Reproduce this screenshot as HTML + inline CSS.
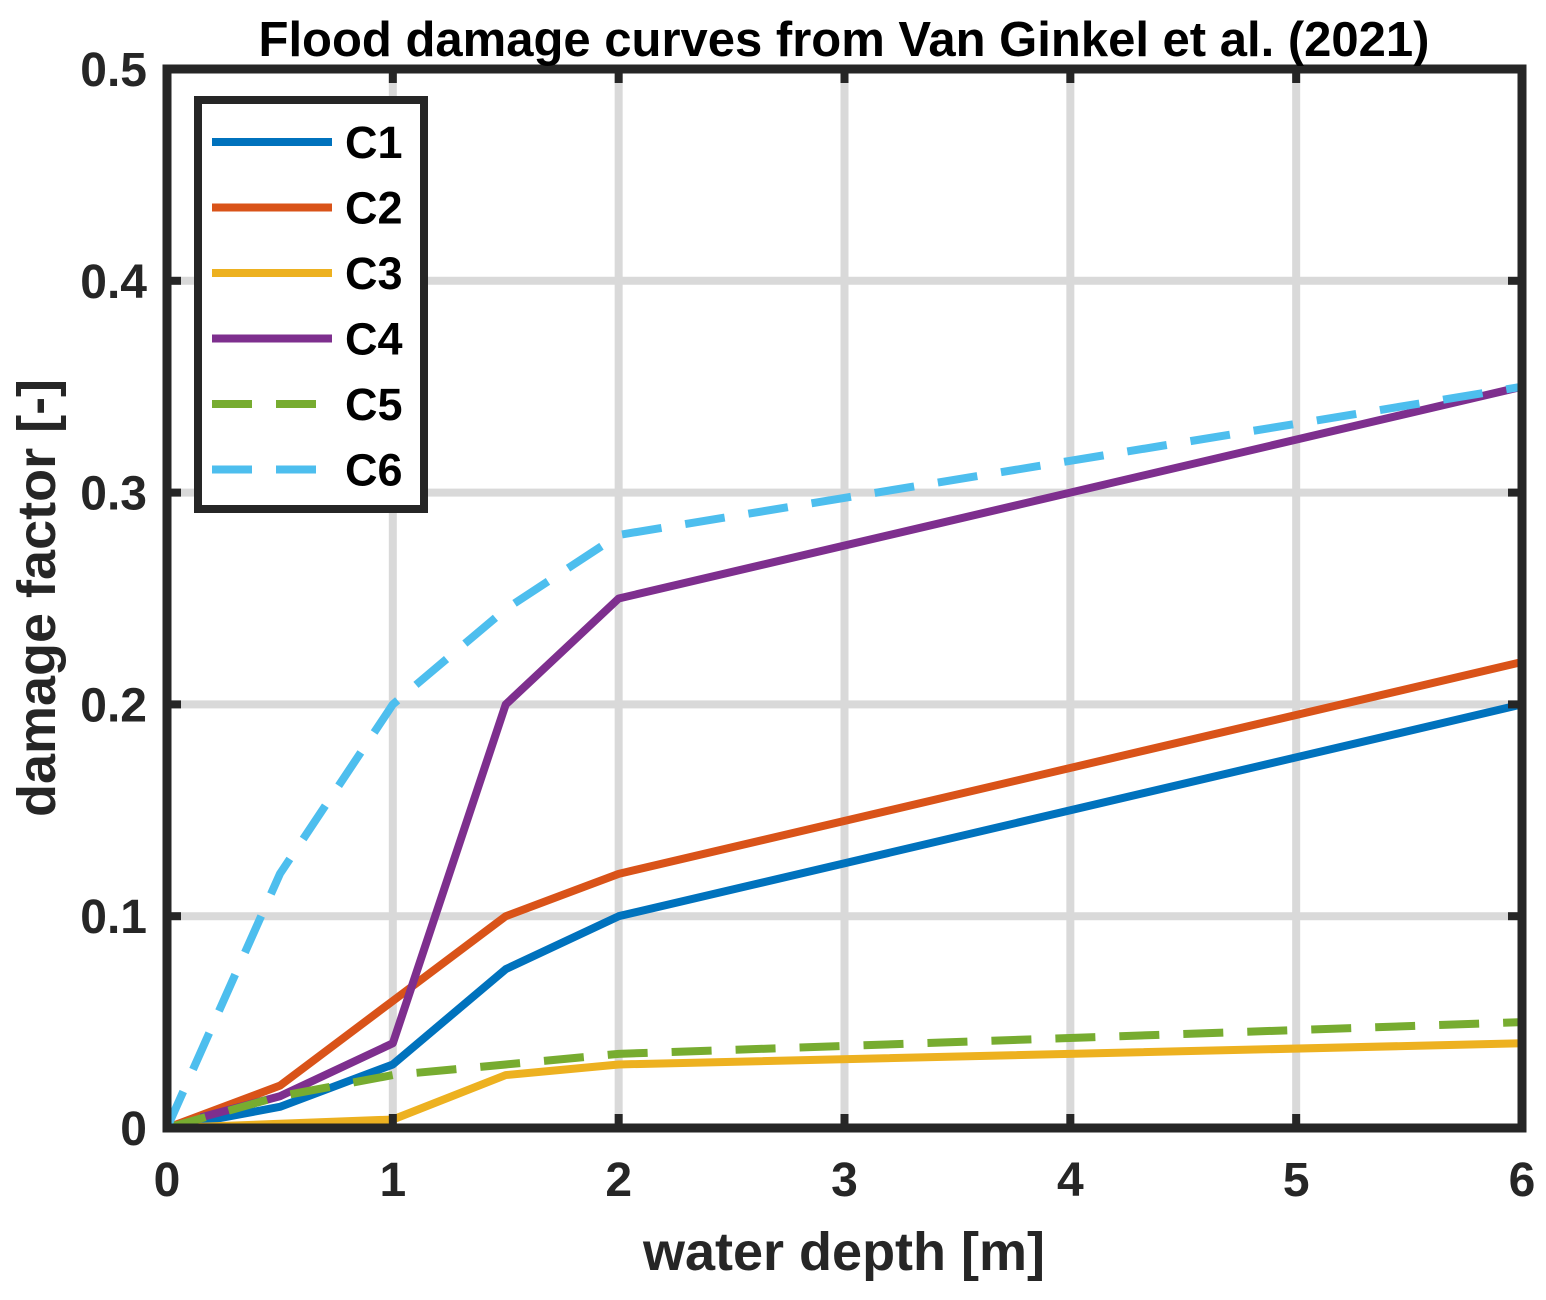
<!DOCTYPE html>
<html><head><meta charset="utf-8"><style>
html,body{margin:0;padding:0;background:#fff;}
svg{display:block;font-family:"Liberation Sans",Arial,sans-serif;font-weight:bold;}
</style></head><body>
<svg id="chart" width="1546" height="1300" viewBox="0 0 1546 1300"></svg>
<script>
const xTicks=[0,1,2,3,4,5,6];
const yTicks=[0,0.1,0.2,0.3,0.4,0.5];
const yTickLabels=["0","0.1","0.2","0.3","0.4","0.5"];
const seriesNames=["C1","C2","C3","C4","C5","C6"];
const c1x=[0,0.5,1,1.5,2,6], c1y=[0,0.01,0.03,0.075,0.1,0.2];
const c2x=[0,0.5,1,1.5,2,6], c2y=[0,0.02,0.06,0.1,0.12,0.22];
const c3x=[0,0.5,1,1.5,2,6], c3y=[0,0.002,0.004,0.025,0.03,0.04];
const c4x=[0.15,0.5,1,1.5,2,6], c4y=[0.005,0.015,0.04,0.2,0.25,0.35];
const c5x=[0,0.5,1,1.5,2,6], c5y=[0,0.015,0.025,0.03,0.035,0.05];
const c6x=[0,0.5,1,1.5,2,6], c6y=[0,0.12,0.2,0.245,0.28,0.35];
const colors=["#0072BD","#D95319","#EDB120","#7E2F8E","#77AC30","#4DBEEE"];
const dashed=[false,false,false,false,true,true];
const X0=167,X1=1522,Y0=1128,Y1=69;
const sx=v=>X0+(v-0)/(6-0)*(X1-X0);
const sy=v=>Y0-(v-0)/(0.5-0)*(Y0-Y1);
const NS="http://www.w3.org/2000/svg";
const svg=document.getElementById('chart');
function mk(tag,attrs,parent){const e=document.createElementNS(NS,tag);for(const k in attrs)e.setAttribute(k,attrs[k]);(parent||svg).appendChild(e);return e;}
xTicks.forEach(t=>{const l=mk('line',{x1:sx(t),x2:sx(t),y1:Y1,y2:Y0,stroke:'#d9d9d9','stroke-width':8});

});
yTicks.forEach(t=>{const l=mk('line',{x1:X0,x2:X1,y1:sy(t),y2:sy(t),stroke:'#d9d9d9','stroke-width':8});

});
const xs=[c1x,c2x,c3x,c4x,c5x,c6x], ys=[c1y,c2y,c3y,c4y,c5y,c6y];
xs.forEach((arr,i)=>{const pts=arr.map((x,j)=>sx(x)+','+sy(ys[i][j])).join(' ');
const p=mk('polyline',{points:pts,fill:'none',stroke:colors[i],'stroke-width':8,'stroke-linejoin':'round'});
if(dashed[i])p.setAttribute('stroke-dasharray','40,24');

});
const tg=mk('g',{stroke:'#262626','stroke-width':8});
xTicks.forEach(t=>{mk('line',{x1:sx(t),x2:sx(t),y1:Y0,y2:Y0-14},tg);mk('line',{x1:sx(t),x2:sx(t),y1:Y1,y2:Y1+14},tg);});
yTicks.forEach(t=>{mk('line',{x1:X0,x2:X0+14,y1:sy(t),y2:sy(t)},tg);mk('line',{x1:X1,x2:X1-14,y1:sy(t),y2:sy(t)},tg);});
const fr=mk('rect',{x:X0,y:Y1,width:X1-X0,height:Y0-Y1,fill:'none',stroke:'#262626','stroke-width':9});


xTicks.forEach(t=>{const e=mk('text',{x:sx(t),y:Y0+68,'text-anchor':'middle','font-size':48,fill:'#262626'});e.textContent=String(t);

});
yTicks.forEach((t,i)=>{const e=mk('text',{x:X0-20,y:sy(t)+17,'text-anchor':'end','font-size':48,fill:'#262626'});e.textContent=yTickLabels[i];

});
const lg=mk('g',{});


mk('rect',{x:198,y:100,width:226,height:409,fill:'#fff',stroke:'#262626','stroke-width':8},lg);
seriesNames.forEach((n,i)=>{const y=142+i*65.5;
const l=mk('line',{x1:212,x2:332,y1:y,y2:y,stroke:colors[i],'stroke-width':8},lg);
if(dashed[i])l.setAttribute('stroke-dasharray','40,24');
const t=mk('text',{x:345,y:y+16,'font-size':45,fill:'#000'},lg);t.textContent=n;

});
</script>
<svg style="position:absolute;left:0;top:0" width="1546" height="1300">
<text x="844" y="56" text-anchor="middle" font-size="49" fill="#000">Flood damage curves from Van Ginkel et al. (2021)</text>
<text x="844" y="1270" text-anchor="middle" font-size="54" fill="#262626">water depth [m]</text>
<text x="0" y="0" transform="translate(55,598) rotate(-90)" text-anchor="middle" font-size="54" fill="#262626">damage factor [-]</text>
</svg>
</body></html>
